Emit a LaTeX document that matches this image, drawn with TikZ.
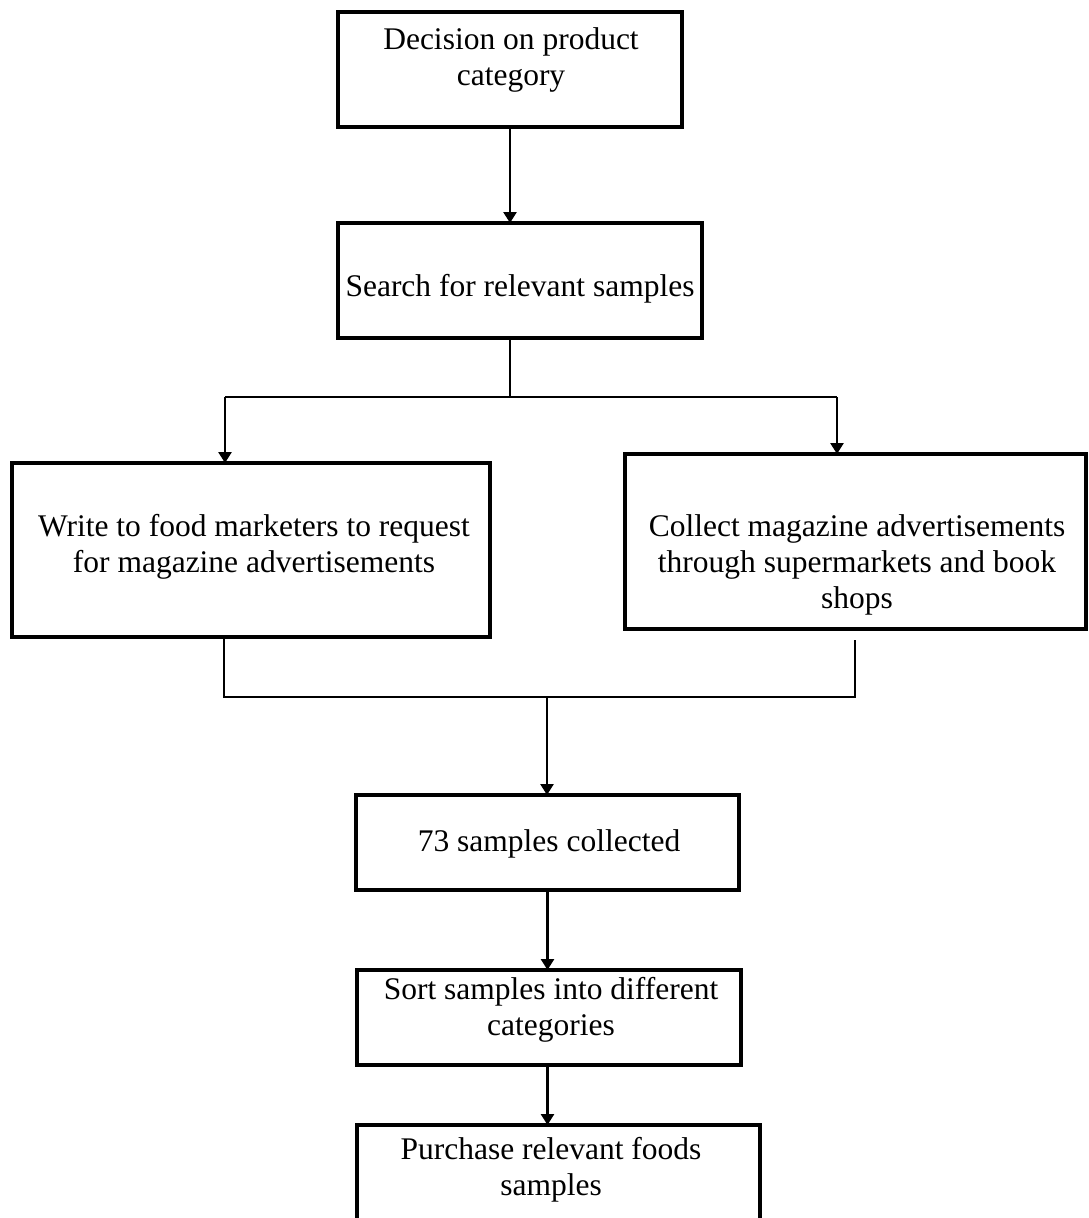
\documentclass[tikz,border=0pt]{standalone}
\usepackage{fontspec}
\setmainfont{Liberation Serif}
\usetikzlibrary{arrows.meta}
\begin{document}
\begin{tikzpicture}[x=1pt,y=-1pt,
  box/.style={draw, line width=3.1pt, inner sep=0pt, outer sep=0pt},
  frame/.style={inner sep=0pt, outer sep=0pt},
  txt/.style={align=center, inner sep=0pt, font=\fontsize{31.5}{36}\selectfont},
  link/.style={line width=2.6pt},
  arr/.style={link, -{Triangle[width=13pt,length=11pt]}}
]
\useasboundingbox (0,0) rectangle (1089,1218);
\fill[white] (0,0) rectangle (1089,1218);

% process boxes
\node[box, minimum width=344pt, minimum height=115pt] (b1) at (510,69.5) {};
\node[box, minimum width=364pt, minimum height=115pt] (b2) at (520,280.5) {};
\node[box, minimum width=478pt, minimum height=174pt] (b3) at (251,550) {};
\node[box, minimum width=461pt, minimum height=175pt] (b4) at (855.5,541.5) {};
\node[box, minimum width=383pt, minimum height=95pt] (b5) at (547.5,842.5) {};
\node[box, minimum width=384pt, minimum height=95pt] (b6) at (549,1017.5) {};
% last box runs off the bottom of the page: only its top and sides show
\node[frame, minimum width=403pt, minimum height=93pt] (b7) at (558.5,1171.5) {};
\draw[line width=3.1pt] (b7.south west) -- (b7.north west) -- (b7.north east) -- (b7.south east);

% box texts
\node[txt] (t1) at (511,60) {Decision on product\\category};
\node[txt] (t2) at (520,289) {Search for relevant samples};
\node[txt] (t3) at (254,547) {Write to food marketers to request\\for magazine advertisements};
\node[txt] (t4) at (857,565) {Collect magazine advertisements\\through supermarkets and book\\shops};
\node[txt] (t5) at (549,844) {73 samples collected};
\node[txt] (t6) at (551,1010) {Sort samples into different\\categories};
\node[txt] (t7) at (551,1170) {Purchase relevant foods\\samples};

% fork below the search step
\coordinate (fork)  at (510,397);
\coordinate (forkL) at (225,397);
\coordinate (forkR) at (837,397);
\draw[arr] (b1.south) -- (b1.south |- b2.north);
\draw[link] (fork |- b2.south) -- (fork);
\draw[link] (forkL) -- (forkR);
\draw[arr] (forkL) -- (forkL |- b3.north);
\draw[arr] (forkR) -- (forkR |- b4.north);

% join of the two collection routes
\coordinate (joinL) at (224,697);
\coordinate (joinR) at (855,697);
\coordinate (joinRtop) at (855,640);
\coordinate (join)  at (547,697);
\draw[link] (joinL |- b3.south) -- (joinL) -- (joinR) -- (joinRtop);
\draw[arr] (join) -- (join |- b5.north);

% final steps
\draw[arr] (b5.south) -- (b5.south |- b6.north);
\draw[arr] (b5.south |- b6.south) -- (b5.south |- b7.north);
\end{tikzpicture}
\end{document}
